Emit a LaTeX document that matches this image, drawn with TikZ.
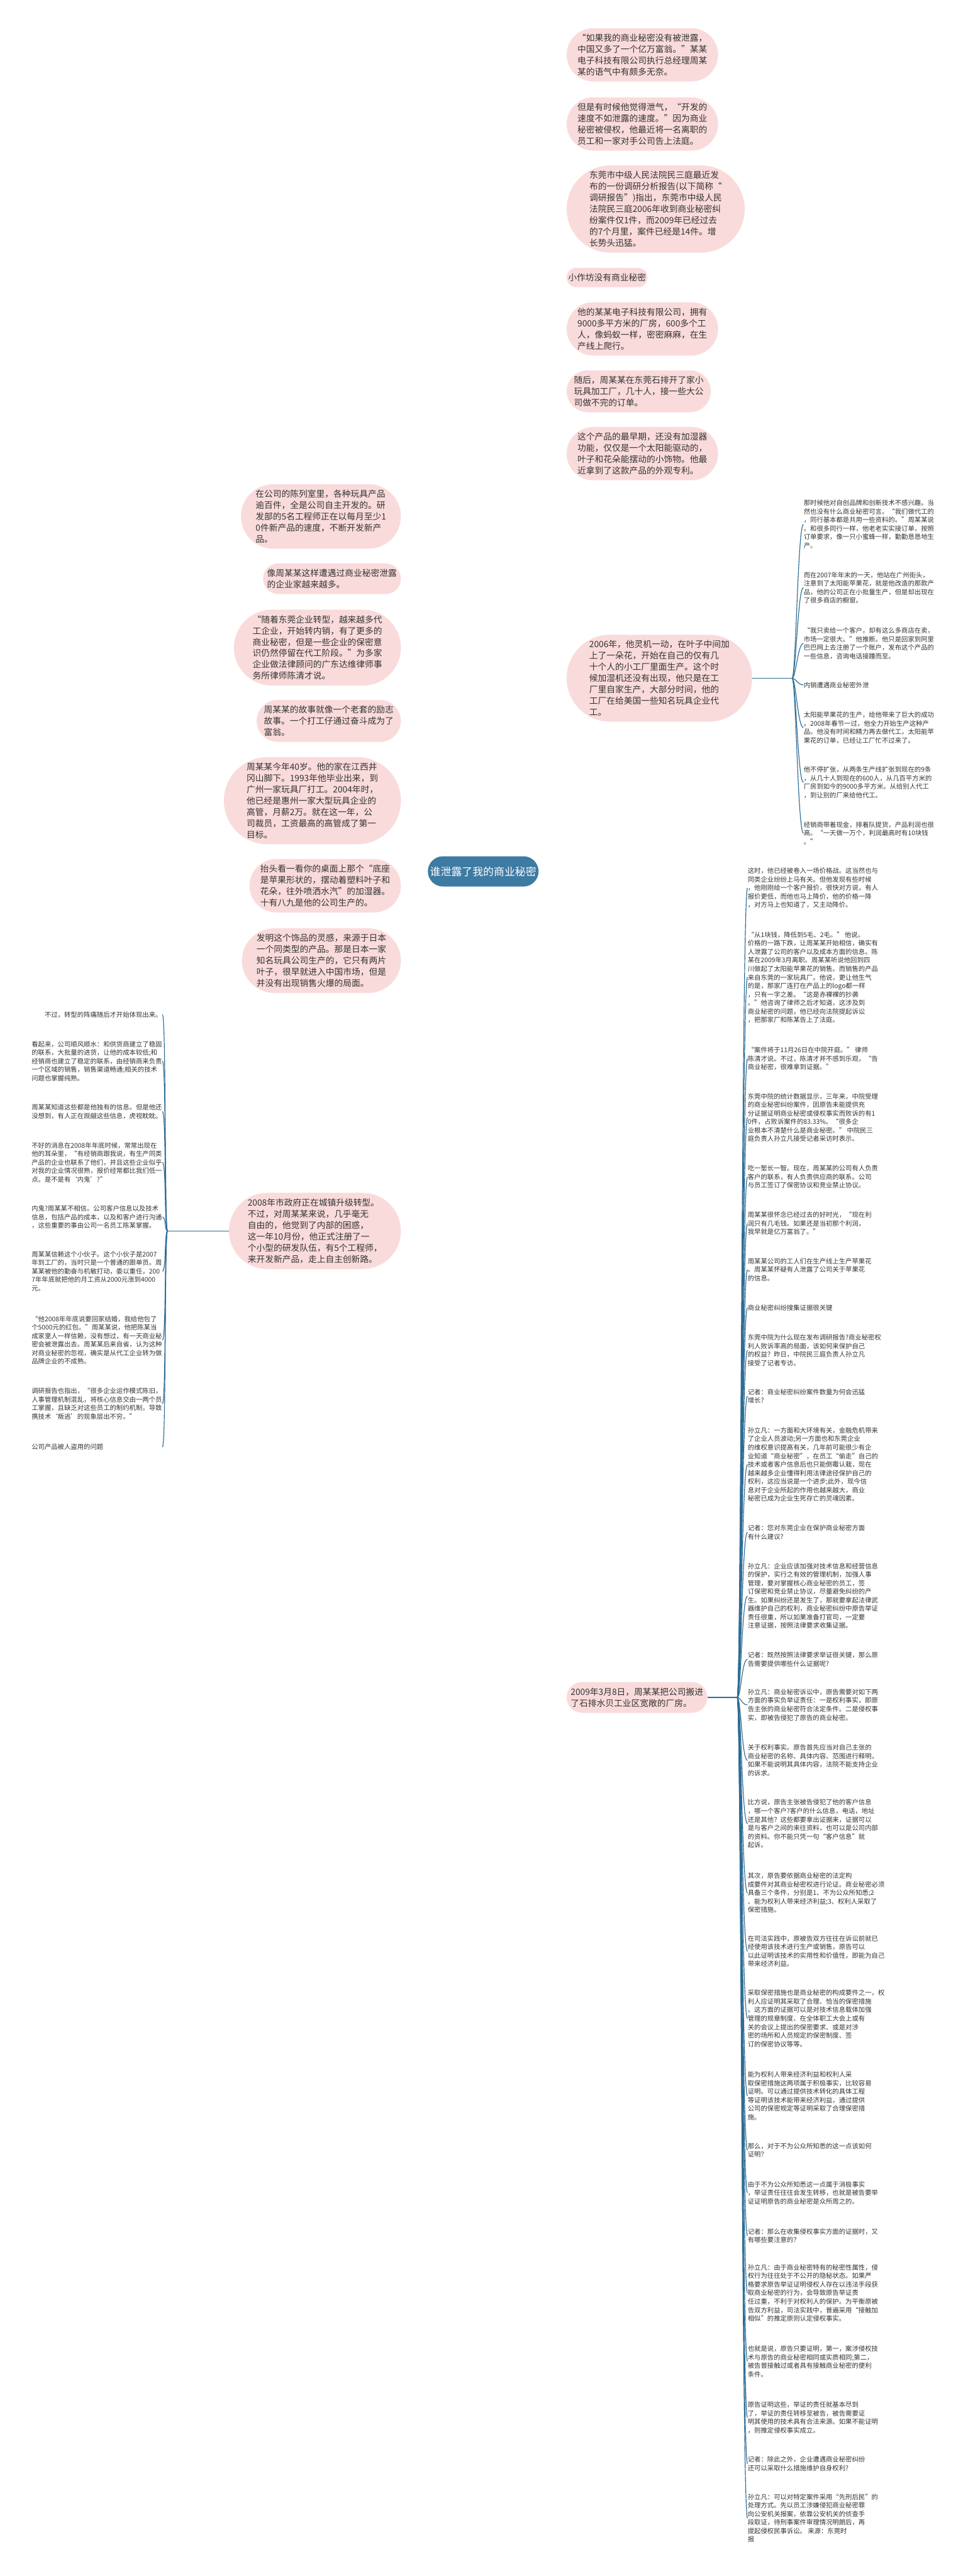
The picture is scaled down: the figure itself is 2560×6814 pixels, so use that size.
\documentclass[tikz,border=0pt]{standalone}
\usepackage{fontspec}
\setmainfont{Noto Sans CJK SC}
\usetikzlibrary{shapes.misc}
\usetikzlibrary{calc}
\definecolor{blush}{RGB}{250, 219, 219}
\definecolor{deepsea}{RGB}{46, 108, 148}
\definecolor{harbor}{RGB}{61, 123, 163}
\definecolor{ink}{RGB}{51, 51, 51}
\pgfdeclarelayer{back}
\pgfsetlayers{back,main}
\newcommand\bubfont{\fontsize{6.5pt}{8.5pt}\selectfont}
\newcommand\leaffont{\fontsize{4.9pt}{6.4pt}\selectfont}

\begin{document}
\begin{tikzpicture}[x=0.01cm, y=-0.01cm,
    bubble/.style={rounded rectangle, fill=blush, text=ink, font=\bubfont, align=left, inner xsep=0.5pt, inner ysep=0.15cm},
    leaf/.style={text=ink, font=\leaffont, align=left, inner sep=0pt, anchor=north west},
    link/.style={draw=deepsea, line width=0.75pt},
    twig/.style={draw=deepsea, line width=0.55pt}]
    \fill[white] (0,0) rectangle (2560,6814);
    \useasboundingbox (0,0) rectangle (2560,6814);

    % centre
    \node[rounded rectangle, fill=harbor, text=white, font=\fontsize{8pt}{10pt}\selectfont, minimum height=0.8cm, inner xsep=1pt] (ctr) at (1278,2305) {谁泄露了我的商业秘密};
    \coordinate (ctrR) at (1420,2305);
    \coordinate (ctrL) at (1140,2305);

    % right bubbles
    \node[bubble, anchor=west] (r1) at (1498, 145) {“如果我的商业秘密没有被泄露，\\中国又多了一个亿万富翁。”某某\\电子科技有限公司执行总经理周某\\某的语气中有颇多无奈。};
    \node[bubble, anchor=west] (r2) at (1498, 328) {但是有时候他觉得泄气，“开发的\\速度不如泄露的速度。”因为商业\\秘密被侵权，他最近将一名离职的\\员工和一家对手公司告上法庭。};
    \node[bubble, anchor=west] (r3) at (1498, 553) {东莞市中级人民法院民三庭最近发\\布的一份调研分析报告(以下简称“\\调研报告”)指出，东莞市中级人民\\法院民三庭2006年收到商业秘密纠\\纷案件仅1件，而2009年已经过去\\的7个月里，案件已经是14件。增\\长势头迅猛。};
    \node[bubble, anchor=west] (r4) at (1498, 734) {小作坊没有商业秘密};
    \node[bubble, anchor=west] (r5) at (1498, 870) {他的某某电子科技有限公司，拥有\\9000多平方米的厂房，600多个工\\人，像蚂蚁一样，密密麻麻，在生\\产线上爬行。};
    \node[bubble, anchor=west] (r6) at (1498,1035) {随后，周某某在东莞石排开了家小\\玩具加工厂，几十人，接一些大公\\司做不完的订单。};
    \node[bubble, anchor=west] (r7) at (1498,1200) {这个产品的最早期，还没有加湿器\\功能，仅仅是一个太阳能驱动的，\\叶子和花朵能摆动的小饰物。他最\\近拿到了这款产品的外观专利。};
    \node[bubble, anchor=west] (r8) at (1498,1794) {2006年，他灵机一动，在叶子中间加\\上了一朵花，开始在自己的仅有几\\十个人的小工厂里面生产。这个时\\候加湿机还没有出现，他只是在工\\厂里自家生产，大部分时间，他的\\工厂在给美国一些知名玩具企业代\\工。};
    \node[bubble, anchor=west] (r9) at (1498,4490) {2009年3月8日，周某某把公司搬进\\了石排水贝工业区宽敞的厂房。};

    % left bubbles
    \node[bubble, anchor=east] (l1) at (1061,1366) {在公司的陈列室里，各种玩具产品\\逾百件，全是公司自主开发的。研\\发部的5名工程师正在以每月至少1\\0件新产品的速度，不断开发新产\\品。};
    \node[bubble, anchor=east] (l2) at (1061,1531) {像周某某这样遭遇过商业秘密泄露\\的企业家越来越多。};
    \node[bubble, anchor=east] (l3) at (1061,1713) {“随着东莞企业转型，越来越多代\\工企业，开始转内销，有了更多的\\商业秘密，但是一些企业的保密意\\识仍然停留在代工阶段。”为多家\\企业做法律顾问的广东达维律师事\\务所律师陈清才说。};
    \node[bubble, anchor=east] (l4) at (1061,1907) {周某某的故事就像一个老套的励志\\故事。一个打工仔通过奋斗成为了\\富翁。};
    \node[bubble, anchor=east] (l5) at (1061,2118) {周某某今年40岁。他的家在江西井\\冈山脚下。1993年他毕业出来，到\\广州一家玩具厂打工。2004年时，\\他已经是惠州一家大型玩具企业的\\高管，月薪2万。就在这一年，公\\司裁员，工资最高的高管成了第一\\目标。};
    \node[bubble, anchor=east] (l6) at (1061,2343) {抬头看一看你的桌面上那个“底座\\是苹果形状的，摆动着塑料叶子和\\花朵，往外喷洒水汽”的加湿器。\\十有八九是他的公司生产的。};
    \node[bubble, anchor=east] (l7) at (1061,2541) {发明这个饰品的灵感，来源于日本\\一个同类型的产品。那是日本一家\\知名玩具公司生产的，它只有两片\\叶子，很早就进入中国市场，但是\\并没有出现销售火爆的局面。};
    \node[bubble, anchor=east] (l8) at (1061,3256) {2008年市政府正在城镇升级转型。\\不过，对周某某来说，几乎毫无\\自由的，他觉到了内部的困惑，\\这一年10月份，他正式注册了一\\个小型的研发队伍，有5个工程师，\\来开发新产品，走上自主创新路。};

    % leaves of the 2006 bubble
    \node[leaf] (u1) at (2125,1322) {那时候他对自创品牌和创新技术不感兴趣。当\\然也没有什么商业秘密可言。“我们做代工的\\，同行基本都是共用一些资料的。”周某某说\\。和很多同行一样，他老老实实接订单，按照\\订单要求，像一只小蜜蜂一样，勤勤恳恳地生\\产。};
    \node[leaf] (u2) at (2125,1512) {而在2007年年末的一天，他站在广州街头，\\注意到了太阳能苹果花，就是他改造的那款产\\品，他的公司正在小批量生产，但是却出现在\\了很多商店的橱窗。};
    \node[leaf] (u3) at (2125,1659) {“我只卖给一个客户，却有这么多商店在卖，\\市场一定很大。”他推断。他只是回家到阿里\\巴巴网上去注册了一个账户，发布这个产品的\\一些信息，咨询电话接踵而至。};
    \node[leaf] (u4) at (2125,1803) {内销遭遇商业秘密外泄};
    \node[leaf] (u5) at (2125,1882) {太阳能苹果花的生产，给他带来了巨大的成功\\。2008年春节一过，他全力开始生产这种产\\品。他没有时间和精力再去做代工，太阳能苹\\果花的订单，已经让工厂忙不过来了。};
    \node[leaf] (u6) at (2125,2027) {他不停扩张，从两条生产线扩张到现在的9条\\，从几十人到现在的600人，从几百平方米的\\厂房到如今的9000多平方米。从给别人代工\\，到让别的厂来给他代工。};
    \node[leaf] (u7) at (2125,2173) {经销商带着现金，排着队提货，产品利润也很\\高。“一天做一万个，利润最高时有10块钱\\。”};
    \coordinate (uroot) at (2095,1794);

    % leaves of the 2008 bubble
    \begin{scope}[leaf/.append style={text width=3.45cm}]
    \node[leaf] (m1) at (83,2675) {\hspace*{2em}不过，转型的阵痛随后才开始体现出来。};
    \node[leaf] (m2) at (83,2753) {看起来，公司顺风顺水：和供货商建立了稳固\\的联系，大批量的进货，让他的成本较低;和\\经销商也建立了稳定的联系，由经销商来负责\\一个区域的销售，销售渠道畅通;相关的技术\\问题也掌握纯熟。};
    \node[leaf] (m3) at (83,2920) {周某某知道这些都是他独有的信息。但是他还\\没想到，有人正在觊觎这些信息，虎视眈眈。};
    \node[leaf] (m4) at (83,3021) {不好的消息在2008年年底时候，常常出现在\\他的耳朵里，“有经销商跟我说，有生产同类\\产品的企业也联系了他们，并且这些企业似乎\\对我的企业情况很熟，报价经常都比我们低一\\点。是不是有‘内鬼’?”};
    \node[leaf] (m5) at (83,3188) {内鬼?周某某不相信。公司客户信息以及技术\\信息，包括产品的成本，以及和客户进行沟通\\，这些重要的事由公司一名员工陈某掌握。};
    \node[leaf] (m6) at (83,3309) {周某某信赖这个小伙子。这个小伙子是2007\\年到工厂的，当时只是一个普通的跟单员。周\\某某被他的勤奋与机敏打动，委以重任，200\\7年年底就把他的月工资从2000元涨到4000\\元。};
    \node[leaf] (m7) at (83,3480) {“他2008年年底说要回家结婚，我给他包了\\个5000元的红包。”周某某说，他把陈某当\\成家里人一样信赖，没有想过，有一天商业秘\\密会被泄露出去。周某某后来自省，认为这种\\对商业秘密的忽视，确实是从代工企业转为做\\品牌企业的不成熟。};
    \node[leaf] (m8) at (83,3671) {调研报告也指出，“很多企业运作模式陈旧，\\人事管理机制混乱，将核心信息交由一两个员\\工掌握，且缺乏对这些员工的制约机制，导致\\携技术‘叛逃’的现象层出不穷。”};
    \node[leaf] (m9) at (83,3819) {公司产品被人盗用的问题};
    \end{scope}
    \coordinate (lroot) at (443,3256);

    % leaves of the 2009 bubble
    \node[leaf] (d1) at (1977,2295) {这时，他已经被卷入一场价格战。这当然也与\\同类企业纷纷上马有关。但他发现有些时候\\，他刚刚给一个客户报价，很快对方说，有人\\报价更低，而他也马上降价，他的价格一降\\，对方马上也知道了，又主动降价。};
    \node[leaf] (d2) at (1977,2464) {“从1块钱，降低到5毛、2毛。” 他说。\\价格的一路下跌，让周某某开始相信，确实有\\人泄露了公司的客户以及成本方面的信息。陈\\某在2009年3月离职。周某某听说他回到四\\川做起了太阳能苹果花的销售。而销售的产品\\来自东莞的一家玩具厂。他说，更让他生气\\的是，那家厂连打在产品上的logo都一样\\，只有一字之差。“这是赤裸裸的抄袭\\。”他咨询了律师之后才知道，这涉及到\\商业秘密的问题，他已经向法院提起诉讼\\，把那家厂和陈某告上了法庭。};
    \node[leaf] (d3) at (1977,2769) {“案件将于11月26日在中院开庭。” 律师\\陈清才说。不过，陈清才并不感到乐观，“告\\商业秘密，很难拿到证据。”};
    \node[leaf] (d4) at (1977,2891) {东莞中院的统计数据显示，三年来，中院受理\\的商业秘密纠纷案件，因原告未能提供充\\分证据证明商业秘密或侵权事实而败诉的有1\\0件，占败诉案件的83.33\%。“很多企\\业根本不清楚什么是商业秘密。” 中院民三\\庭负责人孙立凡接受记者采访时表示。};
    \node[leaf] (d5) at (1977,3082) {吃一堑长一智。现在，周某某的公司有人负责\\客户的联系，有人负责供应商的联系。公司\\与员工签订了保密协议和竞业禁止协议。};
    \node[leaf] (d6) at (1977,3205) {周某某很怀念已经过去的好时光，“现在利\\润只有几毛钱。如果还是当初那个利润，\\我早就是亿万富翁了。”};
    \node[leaf] (d7) at (1977,3327) {周某某公司的工人们在生产线上生产苹果花\\。周某某怀疑有人泄露了公司关于苹果花\\的信息。};
    \node[leaf] (d8) at (1977,3450) {商业秘密纠纷搜集证据很关键};
    \node[leaf] (d9) at (1977,3529) {东莞中院为什么现在发布调研报告?商业秘密权\\利人败诉率高的局面，该如何来保护自己\\的权益？昨日，中院民三庭负责人孙立凡\\接受了记者专访。};
    \node[leaf] (d10) at (1977,3673) {记者：商业秘密纠纷案件数量为何会迅猛\\增长?};
    \node[leaf] (d11) at (1977,3775) {孙立凡：一方面和大环境有关，金融危机带来\\了企业人员波动;另一方面也和东莞企业\\的维权意识提高有关，几年前可能很少有企\\业知道“商业秘密”，在员工“偷走”自己的\\技术或者客户信息后也只能倒霉认栽，现在\\越来越多企业懂得利用法律途径保护自己的\\权利，这应当说是一个进步;此外，现今信\\息对于企业所起的作用也越来越大，商业\\秘密已成为企业生死存亡的灵魂因素。};
    \node[leaf] (d12) at (1977,4033) {记者：您对东莞企业在保护商业秘密方面\\有什么建议?};
    \node[leaf] (d13) at (1977,4134) {孙立凡：企业应该加强对技术信息和经营信息\\的保护，实行之有效的管理机制，加强人事\\管理，要对掌握核心商业秘密的员工，签\\订保密和竞业禁止协议，尽量避免纠纷的产\\生。如果纠纷还是发生了，那就要拿起法律武\\器维护自己的权利，商业秘密纠纷中原告举证\\责任很重，所以如果准备打官司，一定要\\注意证据，按照法律要求收集证据。};
    \node[leaf] (d14) at (1977,4369) {记者：既然按照法律要求举证很关键，那么原\\告需要提供哪些什么证据呢?};
    \node[leaf] (d15) at (1977,4467) {孙立凡：商业秘密诉讼中，原告需要对如下两\\方面的事实负举证责任：一是权利事实，即原\\告主张的商业秘密符合法定条件。二是侵权事\\实，即被告侵犯了原告的商业秘密。};
    \node[leaf] (d16) at (1977,4614) {关于权利事实。原告首先应当对自己主张的\\商业秘密的名称、具体内容、范围进行释明，\\如果不能说明其具体内容，法院不能支持企业\\的诉求。};
    \node[leaf] (d17) at (1977,4759) {比方说，原告主张被告侵犯了他的客户信息\\，哪一个客户?客户的什么信息，电话，地址\\还是其他？这些都要拿出证据来，证据可以\\是与客户之间的来往资料，也可以是公司内部\\的资料。你不能只凭一句“客户信息”就\\起诉。};
    \node[leaf] (d18) at (1977,4953) {其次，原告要依据商业秘密的法定构\\成要件对其商业秘密权进行论证。商业秘密必须\\具备三个条件，分别是1、不为公众所知悉;2\\、能为权利人带来经济利益;3、权利人采取了\\保密措施。};
    \node[leaf] (d19) at (1977,5119) {在司法实践中，原被告双方往往在诉讼前就已\\经使用该技术进行生产或销售，原告可以\\以此证明该技术的实用性和价值性，即能为自己\\带来经济利益。};
    \node[leaf] (d20) at (1977,5263) {采取保密措施也是商业秘密的构成要件之一，权\\利人应证明其采取了合理、恰当的保密措施\\。这方面的证据可以是对技术信息载体加强\\管理的规章制度、在全体职工大会上或有\\关的会议上提出的保密要求、或是对涉\\密的场所和人员规定的保密制度、签\\订的保密协议等等。};
    \node[leaf] (d21) at (1977,5479) {能为权利人带来经济利益和权利人采\\取保密措施这两项属于积极事实，比较容易\\证明。可以通过提供技术转化的具体工程\\等证明该技术能带来经济利益，通过提供\\公司的保密规定等证明采取了合理保密措\\施。};
    \node[leaf] (d22) at (1977,5668) {那么，对于不为公众所知悉的这一点该如何\\证明？};
    \node[leaf] (d23) at (1977,5769) {由于不为公众所知悉这一点属于消极事实\\，举证责任往往会发生转移，也就是被告要举\\证证明原告的商业秘密是众所周之的。};
    \node[leaf] (d24) at (1977,5894) {记者：那么在收集侵权事实方面的证据时，又\\有哪些要注意的？};
    \node[leaf] (d25) at (1977,5989) {孙立凡：由于商业秘密特有的秘密性属性，侵\\权行为往往处于不公开的隐秘状态。如果严\\格要求原告举证证明侵权人存在以违法手段获\\取商业秘密的行为，会导致原告举证责\\任过重，不利于对权利人的保护。为平衡原被\\告双方利益，司法实践中，普遍采用“接触加\\相似”的推定原则认定侵权事实。};
    \node[leaf] (d26) at (1977,6204) {也就是说，原告只要证明，第一，案涉侵权技\\术与原告的商业秘密相同或实质相同;第二，\\被告曾接触过或者具有接触商业秘密的便利\\条件。};
    \node[leaf] (d27) at (1977,6352) {原告证明这些，举证的责任就基本尽到\\了，举证的责任转移至被告，被告需要证\\明其使用的技术具有合法来源。如果不能证明\\，则推定侵权事实成立。};
    \node[leaf] (d28) at (1977,6497) {记者：除此之外，企业遭遇商业秘密纠纷\\还可以采取什么措施维护自身权利?};
    \node[leaf] (d29) at (1977,6596) {孙立凡：可以对特定案件采用“先刑后民”的\\处理方式。先以员工涉嫌侵犯商业秘密罪\\向公安机关报案，依靠公安机关的侦查手\\段取证，待刑事案件审理情况明朗后，再\\提起侵权民事诉讼。 来源：东莞时\\报};
    \coordinate (droot) at (1950,4490);

    % connectors
    \begin{pgfonlayer}{back}
    \foreach \i in {1,...,9}
        \draw[link] (ctrR) .. controls +(40,0) and +(-40,0) .. (r\i.west);
    \foreach \i in {1,...,8}
        \draw[link] (ctrL) .. controls +(-40,0) and +(40,0) .. (l\i.east);
    \end{pgfonlayer}
    \draw[twig] (r8.east) -- (uroot);
    \foreach \i in {1,...,7}
        \draw[twig] (uroot) .. controls +(10,0) and +(-15,0) .. (u\i.west);
    \draw[twig] (l8.west) -- (lroot);
    \foreach \i in {1,...,9}
        \draw[twig] (lroot) .. controls +(-8,0) and +(10,0) .. (m\i.east);
    \draw[twig] (r9.east) -- (droot);
    \foreach \i in {1,...,29}
        \draw[twig] (droot) .. controls +(10,0) and +(-15,0) .. (d\i.west);
\end{tikzpicture}
\end{document}
